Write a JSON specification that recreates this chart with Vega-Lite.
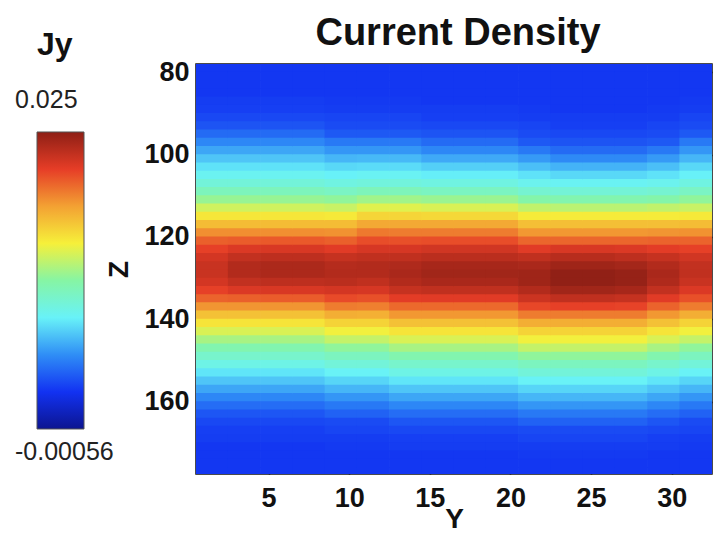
{
"$schema": "https://vega.github.io/schema/vega-lite/v6.json",
"padding": {"left": 15, "top": 14, "right": 0, "bottom": 0},
"background": "white",
"bounds": "flush",
"spacing": 112,
"config": {
  "view": {"stroke": null},
  "axis": {"labelFont": "Liberation Sans", "labelFontSize": 27, "labelFontWeight": "bold", "labelColor": "#111", "titleFont": "Liberation Sans", "titleFontSize": 28, "titleFontWeight": "bold", "titleColor": "#111", "tickColor": "#111", "tickSize": -6, "tickWidth": 1.5, "domain": false, "grid": false}
},
"hconcat": [
{
  "width": 47, "height": 410,
  "title": {"text": "Jy", "anchor": "start", "frame": "group", "font": "Liberation Sans", "fontSize": 32, "fontWeight": "bold", "color": "#111", "baseline": "alphabetic", "offset": -23},
  "layer": [
    {"data": {"values": [{"lo": -0.00056, "hi": 0.025}]},
     "mark": {"type": "rect", "stroke": "#555", "strokeWidth": 1,
       "fill": {"gradient": "linear", "x1": 0, "y1": 1, "x2": 0, "y2": 0, "stops": [
         {"offset": 0, "color": "#0c1590"}, {"offset": 0.125, "color": "#1232f2"}, {"offset": 0.25, "color": "#2f8ef6"}, {"offset": 0.375, "color": "#68f2f8"}, {"offset": 0.5, "color": "#86f5a4"}, {"offset": 0.625, "color": "#f6f03a"}, {"offset": 0.75, "color": "#f3a133"}, {"offset": 0.875, "color": "#e63d27"}, {"offset": 1, "color": "#8e1f15"}]}},
     "encoding": {"y": {"field": "lo", "type": "quantitative", "scale": {"domain": [-0.004433, 0.030852], "nice": false, "zero": false}, "axis": null}, "y2": {"field": "hi"}}},
    {"data": {"values": [{"v": 0.025, "t": "0.025"}]},
     "mark": {"type": "text", "align": "left", "baseline": "bottom", "dx": -45.5, "dy": -19, "font": "Liberation Sans", "fontSize": 25, "color": "#222"},
     "encoding": {"y": {"field": "v", "type": "quantitative"}, "text": {"field": "t"}}},
    {"data": {"values": [{"v": -0.00056, "t": "-0.00056"}]},
     "mark": {"type": "text", "align": "left", "baseline": "top", "dx": -45.5, "dy": 11, "font": "Liberation Sans", "fontSize": 25, "color": "#222"},
     "encoding": {"y": {"field": "v", "type": "quantitative"}, "text": {"field": "t"}}}
  ]
},
{
"width": 516, "height": 410,
"view": {"stroke": "#111", "strokeWidth": 1.5},
"title": {"text": "Current Density", "font": "Liberation Sans", "fontSize": 38, "fontWeight": "bold", "color": "#111", "frame": "group", "baseline": "alphabetic", "offset": -25, "anchor": "middle", "dx": 4},
"data": {"values": [
{"y":1.5,"z":79,"j":0.0028},{"y":1.5,"z":81,"j":0.0028},{"y":1.5,"z":83,"j":0.0028},{"y":1.5,"z":85,"j":0.0028},{"y":1.5,"z":87,"j":0.0030},{"y":1.5,"z":89,"j":0.0031},{"y":1.5,"z":91,"j":0.0034},{"y":1.5,"z":93,"j":0.0038},{"y":1.5,"z":95,"j":0.0046},{"y":1.5,"z":97,"j":0.0056},{"y":1.5,"z":99,"j":0.0066},{"y":1.5,"z":101,"j":0.0076},{"y":1.5,"z":103,"j":0.0085},{"y":1.5,"z":105,"j":0.0093},{"y":1.5,"z":107,"j":0.0102},{"y":1.5,"z":109,"j":0.0113},{"y":1.5,"z":111,"j":0.0127},{"y":1.5,"z":113,"j":0.0143},{"y":1.5,"z":115,"j":0.0158},{"y":1.5,"z":117,"j":0.0175},{"y":1.5,"z":119,"j":0.0192},{"y":1.5,"z":121,"j":0.0207},{"y":1.5,"z":123,"j":0.0217},{"y":1.5,"z":125,"j":0.0225},{"y":1.5,"z":127,"j":0.0229},{"y":1.5,"z":129,"j":0.0229},{"y":1.5,"z":131,"j":0.0225},{"y":1.5,"z":133,"j":0.0217},{"y":1.5,"z":135,"j":0.0206},{"y":1.5,"z":137,"j":0.0190},{"y":1.5,"z":139,"j":0.0173},{"y":1.5,"z":141,"j":0.0159},{"y":1.5,"z":143,"j":0.0146},{"y":1.5,"z":145,"j":0.0132},{"y":1.5,"z":147,"j":0.0118},{"y":1.5,"z":149,"j":0.0107},{"y":1.5,"z":151,"j":0.0097},{"y":1.5,"z":153,"j":0.0086},{"y":1.5,"z":155,"j":0.0076},{"y":1.5,"z":157,"j":0.0066},{"y":1.5,"z":159,"j":0.0056},{"y":1.5,"z":161,"j":0.0047},{"y":1.5,"z":163,"j":0.0039},{"y":1.5,"z":165,"j":0.0034},{"y":1.5,"z":167,"j":0.0031},{"y":1.5,"z":169,"j":0.0030},{"y":1.5,"z":171,"j":0.0028},{"y":1.5,"z":173,"j":0.0028},{"y":1.5,"z":175,"j":0.0028},{"y":1.5,"z":177,"j":0.0028},
{"y":3.5,"z":79,"j":0.0028},{"y":3.5,"z":81,"j":0.0028},{"y":3.5,"z":83,"j":0.0028},{"y":3.5,"z":85,"j":0.0028},{"y":3.5,"z":87,"j":0.0030},{"y":3.5,"z":89,"j":0.0031},{"y":3.5,"z":91,"j":0.0034},{"y":3.5,"z":93,"j":0.0038},{"y":3.5,"z":95,"j":0.0046},{"y":3.5,"z":97,"j":0.0056},{"y":3.5,"z":99,"j":0.0066},{"y":3.5,"z":101,"j":0.0076},{"y":3.5,"z":103,"j":0.0085},{"y":3.5,"z":105,"j":0.0093},{"y":3.5,"z":107,"j":0.0102},{"y":3.5,"z":109,"j":0.0113},{"y":3.5,"z":111,"j":0.0127},{"y":3.5,"z":113,"j":0.0143},{"y":3.5,"z":115,"j":0.0158},{"y":3.5,"z":117,"j":0.0175},{"y":3.5,"z":119,"j":0.0192},{"y":3.5,"z":121,"j":0.0208},{"y":3.5,"z":123,"j":0.0222},{"y":3.5,"z":125,"j":0.0231},{"y":3.5,"z":127,"j":0.0237},{"y":3.5,"z":129,"j":0.0237},{"y":3.5,"z":131,"j":0.0231},{"y":3.5,"z":133,"j":0.0222},{"y":3.5,"z":135,"j":0.0207},{"y":3.5,"z":137,"j":0.0190},{"y":3.5,"z":139,"j":0.0173},{"y":3.5,"z":141,"j":0.0159},{"y":3.5,"z":143,"j":0.0146},{"y":3.5,"z":145,"j":0.0132},{"y":3.5,"z":147,"j":0.0118},{"y":3.5,"z":149,"j":0.0107},{"y":3.5,"z":151,"j":0.0097},{"y":3.5,"z":153,"j":0.0086},{"y":3.5,"z":155,"j":0.0076},{"y":3.5,"z":157,"j":0.0066},{"y":3.5,"z":159,"j":0.0056},{"y":3.5,"z":161,"j":0.0047},{"y":3.5,"z":163,"j":0.0039},{"y":3.5,"z":165,"j":0.0034},{"y":3.5,"z":167,"j":0.0031},{"y":3.5,"z":169,"j":0.0030},{"y":3.5,"z":171,"j":0.0028},{"y":3.5,"z":173,"j":0.0028},{"y":3.5,"z":175,"j":0.0028},{"y":3.5,"z":177,"j":0.0028},
{"y":5.5,"z":79,"j":0.0028},{"y":5.5,"z":81,"j":0.0028},{"y":5.5,"z":83,"j":0.0028},{"y":5.5,"z":85,"j":0.0028},{"y":5.5,"z":87,"j":0.0030},{"y":5.5,"z":89,"j":0.0031},{"y":5.5,"z":91,"j":0.0034},{"y":5.5,"z":93,"j":0.0038},{"y":5.5,"z":95,"j":0.0046},{"y":5.5,"z":97,"j":0.0056},{"y":5.5,"z":99,"j":0.0066},{"y":5.5,"z":101,"j":0.0076},{"y":5.5,"z":103,"j":0.0085},{"y":5.5,"z":105,"j":0.0093},{"y":5.5,"z":107,"j":0.0102},{"y":5.5,"z":109,"j":0.0113},{"y":5.5,"z":111,"j":0.0127},{"y":5.5,"z":113,"j":0.0143},{"y":5.5,"z":115,"j":0.0158},{"y":5.5,"z":117,"j":0.0175},{"y":5.5,"z":119,"j":0.0192},{"y":5.5,"z":121,"j":0.0209},{"y":5.5,"z":123,"j":0.0223},{"y":5.5,"z":125,"j":0.0233},{"y":5.5,"z":127,"j":0.0239},{"y":5.5,"z":129,"j":0.0239},{"y":5.5,"z":131,"j":0.0233},{"y":5.5,"z":133,"j":0.0223},{"y":5.5,"z":135,"j":0.0208},{"y":5.5,"z":137,"j":0.0190},{"y":5.5,"z":139,"j":0.0173},{"y":5.5,"z":141,"j":0.0159},{"y":5.5,"z":143,"j":0.0146},{"y":5.5,"z":145,"j":0.0132},{"y":5.5,"z":147,"j":0.0118},{"y":5.5,"z":149,"j":0.0107},{"y":5.5,"z":151,"j":0.0097},{"y":5.5,"z":153,"j":0.0086},{"y":5.5,"z":155,"j":0.0076},{"y":5.5,"z":157,"j":0.0066},{"y":5.5,"z":159,"j":0.0056},{"y":5.5,"z":161,"j":0.0047},{"y":5.5,"z":163,"j":0.0039},{"y":5.5,"z":165,"j":0.0034},{"y":5.5,"z":167,"j":0.0031},{"y":5.5,"z":169,"j":0.0030},{"y":5.5,"z":171,"j":0.0028},{"y":5.5,"z":173,"j":0.0028},{"y":5.5,"z":175,"j":0.0028},{"y":5.5,"z":177,"j":0.0028},
{"y":7.5,"z":79,"j":0.0028},{"y":7.5,"z":81,"j":0.0028},{"y":7.5,"z":83,"j":0.0028},{"y":7.5,"z":85,"j":0.0028},{"y":7.5,"z":87,"j":0.0030},{"y":7.5,"z":89,"j":0.0031},{"y":7.5,"z":91,"j":0.0034},{"y":7.5,"z":93,"j":0.0038},{"y":7.5,"z":95,"j":0.0046},{"y":7.5,"z":97,"j":0.0056},{"y":7.5,"z":99,"j":0.0066},{"y":7.5,"z":101,"j":0.0076},{"y":7.5,"z":103,"j":0.0085},{"y":7.5,"z":105,"j":0.0093},{"y":7.5,"z":107,"j":0.0102},{"y":7.5,"z":109,"j":0.0113},{"y":7.5,"z":111,"j":0.0127},{"y":7.5,"z":113,"j":0.0143},{"y":7.5,"z":115,"j":0.0158},{"y":7.5,"z":117,"j":0.0175},{"y":7.5,"z":119,"j":0.0192},{"y":7.5,"z":121,"j":0.0209},{"y":7.5,"z":123,"j":0.0223},{"y":7.5,"z":125,"j":0.0233},{"y":7.5,"z":127,"j":0.0239},{"y":7.5,"z":129,"j":0.0239},{"y":7.5,"z":131,"j":0.0233},{"y":7.5,"z":133,"j":0.0223},{"y":7.5,"z":135,"j":0.0208},{"y":7.5,"z":137,"j":0.0190},{"y":7.5,"z":139,"j":0.0173},{"y":7.5,"z":141,"j":0.0159},{"y":7.5,"z":143,"j":0.0146},{"y":7.5,"z":145,"j":0.0132},{"y":7.5,"z":147,"j":0.0118},{"y":7.5,"z":149,"j":0.0107},{"y":7.5,"z":151,"j":0.0097},{"y":7.5,"z":153,"j":0.0086},{"y":7.5,"z":155,"j":0.0076},{"y":7.5,"z":157,"j":0.0066},{"y":7.5,"z":159,"j":0.0056},{"y":7.5,"z":161,"j":0.0047},{"y":7.5,"z":163,"j":0.0039},{"y":7.5,"z":165,"j":0.0034},{"y":7.5,"z":167,"j":0.0031},{"y":7.5,"z":169,"j":0.0030},{"y":7.5,"z":171,"j":0.0028},{"y":7.5,"z":173,"j":0.0028},{"y":7.5,"z":175,"j":0.0028},{"y":7.5,"z":177,"j":0.0028},
{"y":9.5,"z":79,"j":0.0028},{"y":9.5,"z":81,"j":0.0028},{"y":9.5,"z":83,"j":0.0028},{"y":9.5,"z":85,"j":0.0028},{"y":9.5,"z":87,"j":0.0029},{"y":9.5,"z":89,"j":0.0030},{"y":9.5,"z":91,"j":0.0033},{"y":9.5,"z":93,"j":0.0035},{"y":9.5,"z":95,"j":0.0040},{"y":9.5,"z":97,"j":0.0051},{"y":9.5,"z":99,"j":0.0061},{"y":9.5,"z":101,"j":0.0071},{"y":9.5,"z":103,"j":0.0082},{"y":9.5,"z":105,"j":0.0090},{"y":9.5,"z":107,"j":0.0099},{"y":9.5,"z":109,"j":0.0110},{"y":9.5,"z":111,"j":0.0125},{"y":9.5,"z":113,"j":0.0141},{"y":9.5,"z":115,"j":0.0157},{"y":9.5,"z":117,"j":0.0175},{"y":9.5,"z":119,"j":0.0191},{"y":9.5,"z":121,"j":0.0207},{"y":9.5,"z":123,"j":0.0220},{"y":9.5,"z":125,"j":0.0230},{"y":9.5,"z":127,"j":0.0236},{"y":9.5,"z":129,"j":0.0237},{"y":9.5,"z":131,"j":0.0234},{"y":9.5,"z":133,"j":0.0225},{"y":9.5,"z":135,"j":0.0214},{"y":9.5,"z":137,"j":0.0198},{"y":9.5,"z":139,"j":0.0181},{"y":9.5,"z":141,"j":0.0166},{"y":9.5,"z":143,"j":0.0153},{"y":9.5,"z":145,"j":0.0140},{"y":9.5,"z":147,"j":0.0125},{"y":9.5,"z":149,"j":0.0112},{"y":9.5,"z":151,"j":0.0102},{"y":9.5,"z":153,"j":0.0091},{"y":9.5,"z":155,"j":0.0081},{"y":9.5,"z":157,"j":0.0071},{"y":9.5,"z":159,"j":0.0061},{"y":9.5,"z":161,"j":0.0051},{"y":9.5,"z":163,"j":0.0043},{"y":9.5,"z":165,"j":0.0035},{"y":9.5,"z":167,"j":0.0033},{"y":9.5,"z":169,"j":0.0030},{"y":9.5,"z":171,"j":0.0029},{"y":9.5,"z":173,"j":0.0028},{"y":9.5,"z":175,"j":0.0028},{"y":9.5,"z":177,"j":0.0028},
{"y":11.5,"z":79,"j":0.0028},{"y":11.5,"z":81,"j":0.0028},{"y":11.5,"z":83,"j":0.0028},{"y":11.5,"z":85,"j":0.0028},{"y":11.5,"z":87,"j":0.0029},{"y":11.5,"z":89,"j":0.0030},{"y":11.5,"z":91,"j":0.0033},{"y":11.5,"z":93,"j":0.0035},{"y":11.5,"z":95,"j":0.0040},{"y":11.5,"z":97,"j":0.0051},{"y":11.5,"z":99,"j":0.0061},{"y":11.5,"z":101,"j":0.0072},{"y":11.5,"z":103,"j":0.0083},{"y":11.5,"z":105,"j":0.0092},{"y":11.5,"z":107,"j":0.0101},{"y":11.5,"z":109,"j":0.0114},{"y":11.5,"z":111,"j":0.0130},{"y":11.5,"z":113,"j":0.0148},{"y":11.5,"z":115,"j":0.0165},{"y":11.5,"z":117,"j":0.0183},{"y":11.5,"z":119,"j":0.0199},{"y":11.5,"z":121,"j":0.0213},{"y":11.5,"z":123,"j":0.0224},{"y":11.5,"z":125,"j":0.0232},{"y":11.5,"z":127,"j":0.0237},{"y":11.5,"z":129,"j":0.0237},{"y":11.5,"z":131,"j":0.0232},{"y":11.5,"z":133,"j":0.0224},{"y":11.5,"z":135,"j":0.0212},{"y":11.5,"z":137,"j":0.0197},{"y":11.5,"z":139,"j":0.0180},{"y":11.5,"z":141,"j":0.0166},{"y":11.5,"z":143,"j":0.0153},{"y":11.5,"z":145,"j":0.0140},{"y":11.5,"z":147,"j":0.0125},{"y":11.5,"z":149,"j":0.0112},{"y":11.5,"z":151,"j":0.0102},{"y":11.5,"z":153,"j":0.0091},{"y":11.5,"z":155,"j":0.0081},{"y":11.5,"z":157,"j":0.0071},{"y":11.5,"z":159,"j":0.0061},{"y":11.5,"z":161,"j":0.0051},{"y":11.5,"z":163,"j":0.0043},{"y":11.5,"z":165,"j":0.0035},{"y":11.5,"z":167,"j":0.0033},{"y":11.5,"z":169,"j":0.0030},{"y":11.5,"z":171,"j":0.0029},{"y":11.5,"z":173,"j":0.0028},{"y":11.5,"z":175,"j":0.0028},{"y":11.5,"z":177,"j":0.0028},
{"y":13.5,"z":79,"j":0.0028},{"y":13.5,"z":81,"j":0.0028},{"y":13.5,"z":83,"j":0.0028},{"y":13.5,"z":85,"j":0.0028},{"y":13.5,"z":87,"j":0.0029},{"y":13.5,"z":89,"j":0.0030},{"y":13.5,"z":91,"j":0.0033},{"y":13.5,"z":93,"j":0.0035},{"y":13.5,"z":95,"j":0.0040},{"y":13.5,"z":97,"j":0.0051},{"y":13.5,"z":99,"j":0.0061},{"y":13.5,"z":101,"j":0.0072},{"y":13.5,"z":103,"j":0.0083},{"y":13.5,"z":105,"j":0.0092},{"y":13.5,"z":107,"j":0.0101},{"y":13.5,"z":109,"j":0.0114},{"y":13.5,"z":111,"j":0.0130},{"y":13.5,"z":113,"j":0.0148},{"y":13.5,"z":115,"j":0.0165},{"y":13.5,"z":117,"j":0.0183},{"y":13.5,"z":119,"j":0.0198},{"y":13.5,"z":121,"j":0.0212},{"y":13.5,"z":123,"j":0.0224},{"y":13.5,"z":125,"j":0.0232},{"y":13.5,"z":127,"j":0.0238},{"y":13.5,"z":129,"j":0.0240},{"y":13.5,"z":131,"j":0.0237},{"y":13.5,"z":133,"j":0.0230},{"y":13.5,"z":135,"j":0.0219},{"y":13.5,"z":137,"j":0.0204},{"y":13.5,"z":139,"j":0.0189},{"y":13.5,"z":141,"j":0.0173},{"y":13.5,"z":143,"j":0.0159},{"y":13.5,"z":145,"j":0.0146},{"y":13.5,"z":147,"j":0.0132},{"y":13.5,"z":149,"j":0.0118},{"y":13.5,"z":151,"j":0.0107},{"y":13.5,"z":153,"j":0.0097},{"y":13.5,"z":155,"j":0.0086},{"y":13.5,"z":157,"j":0.0076},{"y":13.5,"z":159,"j":0.0066},{"y":13.5,"z":161,"j":0.0056},{"y":13.5,"z":163,"j":0.0047},{"y":13.5,"z":165,"j":0.0039},{"y":13.5,"z":167,"j":0.0034},{"y":13.5,"z":169,"j":0.0031},{"y":13.5,"z":171,"j":0.0030},{"y":13.5,"z":173,"j":0.0028},{"y":13.5,"z":175,"j":0.0028},{"y":13.5,"z":177,"j":0.0028},
{"y":15.5,"z":79,"j":0.0028},{"y":15.5,"z":81,"j":0.0028},{"y":15.5,"z":83,"j":0.0028},{"y":15.5,"z":85,"j":0.0028},{"y":15.5,"z":87,"j":0.0028},{"y":15.5,"z":89,"j":0.0030},{"y":15.5,"z":91,"j":0.0031},{"y":15.5,"z":93,"j":0.0034},{"y":15.5,"z":95,"j":0.0038},{"y":15.5,"z":97,"j":0.0046},{"y":15.5,"z":99,"j":0.0056},{"y":15.5,"z":101,"j":0.0067},{"y":15.5,"z":103,"j":0.0079},{"y":15.5,"z":105,"j":0.0089},{"y":15.5,"z":107,"j":0.0099},{"y":15.5,"z":109,"j":0.0111},{"y":15.5,"z":111,"j":0.0128},{"y":15.5,"z":113,"j":0.0146},{"y":15.5,"z":115,"j":0.0164},{"y":15.5,"z":117,"j":0.0183},{"y":15.5,"z":119,"j":0.0198},{"y":15.5,"z":121,"j":0.0213},{"y":15.5,"z":123,"j":0.0226},{"y":15.5,"z":125,"j":0.0234},{"y":15.5,"z":127,"j":0.0241},{"y":15.5,"z":129,"j":0.0243},{"y":15.5,"z":131,"j":0.0240},{"y":15.5,"z":133,"j":0.0232},{"y":15.5,"z":135,"j":0.0220},{"y":15.5,"z":137,"j":0.0204},{"y":15.5,"z":139,"j":0.0189},{"y":15.5,"z":141,"j":0.0173},{"y":15.5,"z":143,"j":0.0159},{"y":15.5,"z":145,"j":0.0146},{"y":15.5,"z":147,"j":0.0132},{"y":15.5,"z":149,"j":0.0118},{"y":15.5,"z":151,"j":0.0107},{"y":15.5,"z":153,"j":0.0097},{"y":15.5,"z":155,"j":0.0086},{"y":15.5,"z":157,"j":0.0076},{"y":15.5,"z":159,"j":0.0066},{"y":15.5,"z":161,"j":0.0056},{"y":15.5,"z":163,"j":0.0047},{"y":15.5,"z":165,"j":0.0039},{"y":15.5,"z":167,"j":0.0034},{"y":15.5,"z":169,"j":0.0031},{"y":15.5,"z":171,"j":0.0030},{"y":15.5,"z":173,"j":0.0028},{"y":15.5,"z":175,"j":0.0028},{"y":15.5,"z":177,"j":0.0028},
{"y":17.5,"z":79,"j":0.0028},{"y":17.5,"z":81,"j":0.0028},{"y":17.5,"z":83,"j":0.0028},{"y":17.5,"z":85,"j":0.0028},{"y":17.5,"z":87,"j":0.0028},{"y":17.5,"z":89,"j":0.0030},{"y":17.5,"z":91,"j":0.0031},{"y":17.5,"z":93,"j":0.0034},{"y":17.5,"z":95,"j":0.0038},{"y":17.5,"z":97,"j":0.0046},{"y":17.5,"z":99,"j":0.0056},{"y":17.5,"z":101,"j":0.0067},{"y":17.5,"z":103,"j":0.0079},{"y":17.5,"z":105,"j":0.0089},{"y":17.5,"z":107,"j":0.0099},{"y":17.5,"z":109,"j":0.0111},{"y":17.5,"z":111,"j":0.0128},{"y":17.5,"z":113,"j":0.0146},{"y":17.5,"z":115,"j":0.0164},{"y":17.5,"z":117,"j":0.0183},{"y":17.5,"z":119,"j":0.0198},{"y":17.5,"z":121,"j":0.0213},{"y":17.5,"z":123,"j":0.0226},{"y":17.5,"z":125,"j":0.0234},{"y":17.5,"z":127,"j":0.0241},{"y":17.5,"z":129,"j":0.0243},{"y":17.5,"z":131,"j":0.0240},{"y":17.5,"z":133,"j":0.0232},{"y":17.5,"z":135,"j":0.0220},{"y":17.5,"z":137,"j":0.0204},{"y":17.5,"z":139,"j":0.0189},{"y":17.5,"z":141,"j":0.0173},{"y":17.5,"z":143,"j":0.0159},{"y":17.5,"z":145,"j":0.0146},{"y":17.5,"z":147,"j":0.0132},{"y":17.5,"z":149,"j":0.0118},{"y":17.5,"z":151,"j":0.0107},{"y":17.5,"z":153,"j":0.0097},{"y":17.5,"z":155,"j":0.0086},{"y":17.5,"z":157,"j":0.0076},{"y":17.5,"z":159,"j":0.0066},{"y":17.5,"z":161,"j":0.0056},{"y":17.5,"z":163,"j":0.0047},{"y":17.5,"z":165,"j":0.0039},{"y":17.5,"z":167,"j":0.0034},{"y":17.5,"z":169,"j":0.0031},{"y":17.5,"z":171,"j":0.0030},{"y":17.5,"z":173,"j":0.0028},{"y":17.5,"z":175,"j":0.0028},{"y":17.5,"z":177,"j":0.0028},
{"y":19.5,"z":79,"j":0.0028},{"y":19.5,"z":81,"j":0.0028},{"y":19.5,"z":83,"j":0.0028},{"y":19.5,"z":85,"j":0.0028},{"y":19.5,"z":87,"j":0.0028},{"y":19.5,"z":89,"j":0.0030},{"y":19.5,"z":91,"j":0.0031},{"y":19.5,"z":93,"j":0.0034},{"y":19.5,"z":95,"j":0.0038},{"y":19.5,"z":97,"j":0.0046},{"y":19.5,"z":99,"j":0.0056},{"y":19.5,"z":101,"j":0.0067},{"y":19.5,"z":103,"j":0.0079},{"y":19.5,"z":105,"j":0.0089},{"y":19.5,"z":107,"j":0.0099},{"y":19.5,"z":109,"j":0.0111},{"y":19.5,"z":111,"j":0.0128},{"y":19.5,"z":113,"j":0.0146},{"y":19.5,"z":115,"j":0.0164},{"y":19.5,"z":117,"j":0.0183},{"y":19.5,"z":119,"j":0.0198},{"y":19.5,"z":121,"j":0.0213},{"y":19.5,"z":123,"j":0.0226},{"y":19.5,"z":125,"j":0.0234},{"y":19.5,"z":127,"j":0.0241},{"y":19.5,"z":129,"j":0.0243},{"y":19.5,"z":131,"j":0.0240},{"y":19.5,"z":133,"j":0.0232},{"y":19.5,"z":135,"j":0.0220},{"y":19.5,"z":137,"j":0.0204},{"y":19.5,"z":139,"j":0.0189},{"y":19.5,"z":141,"j":0.0173},{"y":19.5,"z":143,"j":0.0159},{"y":19.5,"z":145,"j":0.0146},{"y":19.5,"z":147,"j":0.0132},{"y":19.5,"z":149,"j":0.0118},{"y":19.5,"z":151,"j":0.0107},{"y":19.5,"z":153,"j":0.0097},{"y":19.5,"z":155,"j":0.0086},{"y":19.5,"z":157,"j":0.0076},{"y":19.5,"z":159,"j":0.0066},{"y":19.5,"z":161,"j":0.0056},{"y":19.5,"z":163,"j":0.0047},{"y":19.5,"z":165,"j":0.0039},{"y":19.5,"z":167,"j":0.0034},{"y":19.5,"z":169,"j":0.0031},{"y":19.5,"z":171,"j":0.0030},{"y":19.5,"z":173,"j":0.0028},{"y":19.5,"z":175,"j":0.0028},{"y":19.5,"z":177,"j":0.0028},
{"y":21.5,"z":79,"j":0.0028},{"y":21.5,"z":81,"j":0.0028},{"y":21.5,"z":83,"j":0.0028},{"y":21.5,"z":85,"j":0.0028},{"y":21.5,"z":87,"j":0.0028},{"y":21.5,"z":89,"j":0.0029},{"y":21.5,"z":91,"j":0.0030},{"y":21.5,"z":93,"j":0.0033},{"y":21.5,"z":95,"j":0.0035},{"y":21.5,"z":97,"j":0.0040},{"y":21.5,"z":99,"j":0.0051},{"y":21.5,"z":101,"j":0.0062},{"y":21.5,"z":103,"j":0.0074},{"y":21.5,"z":105,"j":0.0085},{"y":21.5,"z":107,"j":0.0094},{"y":21.5,"z":109,"j":0.0105},{"y":21.5,"z":111,"j":0.0120},{"y":21.5,"z":113,"j":0.0139},{"y":21.5,"z":115,"j":0.0156},{"y":21.5,"z":117,"j":0.0174},{"y":21.5,"z":119,"j":0.0189},{"y":21.5,"z":121,"j":0.0205},{"y":21.5,"z":123,"j":0.0220},{"y":21.5,"z":125,"j":0.0232},{"y":21.5,"z":127,"j":0.0240},{"y":21.5,"z":129,"j":0.0244},{"y":21.5,"z":131,"j":0.0244},{"y":21.5,"z":133,"j":0.0237},{"y":21.5,"z":135,"j":0.0228},{"y":21.5,"z":137,"j":0.0215},{"y":21.5,"z":139,"j":0.0198},{"y":21.5,"z":141,"j":0.0181},{"y":21.5,"z":143,"j":0.0166},{"y":21.5,"z":145,"j":0.0153},{"y":21.5,"z":147,"j":0.0140},{"y":21.5,"z":149,"j":0.0125},{"y":21.5,"z":151,"j":0.0112},{"y":21.5,"z":153,"j":0.0102},{"y":21.5,"z":155,"j":0.0091},{"y":21.5,"z":157,"j":0.0081},{"y":21.5,"z":159,"j":0.0071},{"y":21.5,"z":161,"j":0.0061},{"y":21.5,"z":163,"j":0.0051},{"y":21.5,"z":165,"j":0.0043},{"y":21.5,"z":167,"j":0.0035},{"y":21.5,"z":169,"j":0.0033},{"y":21.5,"z":171,"j":0.0030},{"y":21.5,"z":173,"j":0.0029},{"y":21.5,"z":175,"j":0.0028},{"y":21.5,"z":177,"j":0.0028},
{"y":23.5,"z":79,"j":0.0028},{"y":23.5,"z":81,"j":0.0028},{"y":23.5,"z":83,"j":0.0028},{"y":23.5,"z":85,"j":0.0028},{"y":23.5,"z":87,"j":0.0028},{"y":23.5,"z":89,"j":0.0028},{"y":23.5,"z":91,"j":0.0030},{"y":23.5,"z":93,"j":0.0031},{"y":23.5,"z":95,"j":0.0034},{"y":23.5,"z":97,"j":0.0038},{"y":23.5,"z":99,"j":0.0046},{"y":23.5,"z":101,"j":0.0057},{"y":23.5,"z":103,"j":0.0070},{"y":23.5,"z":105,"j":0.0082},{"y":23.5,"z":107,"j":0.0092},{"y":23.5,"z":109,"j":0.0103},{"y":23.5,"z":111,"j":0.0118},{"y":23.5,"z":113,"j":0.0137},{"y":23.5,"z":115,"j":0.0156},{"y":23.5,"z":117,"j":0.0174},{"y":23.5,"z":119,"j":0.0189},{"y":23.5,"z":121,"j":0.0205},{"y":23.5,"z":123,"j":0.0223},{"y":23.5,"z":125,"j":0.0235},{"y":23.5,"z":127,"j":0.0244},{"y":23.5,"z":129,"j":0.0249},{"y":23.5,"z":131,"j":0.0249},{"y":23.5,"z":133,"j":0.0243},{"y":23.5,"z":135,"j":0.0232},{"y":23.5,"z":137,"j":0.0217},{"y":23.5,"z":139,"j":0.0198},{"y":23.5,"z":141,"j":0.0181},{"y":23.5,"z":143,"j":0.0166},{"y":23.5,"z":145,"j":0.0153},{"y":23.5,"z":147,"j":0.0140},{"y":23.5,"z":149,"j":0.0125},{"y":23.5,"z":151,"j":0.0112},{"y":23.5,"z":153,"j":0.0102},{"y":23.5,"z":155,"j":0.0091},{"y":23.5,"z":157,"j":0.0081},{"y":23.5,"z":159,"j":0.0071},{"y":23.5,"z":161,"j":0.0061},{"y":23.5,"z":163,"j":0.0051},{"y":23.5,"z":165,"j":0.0043},{"y":23.5,"z":167,"j":0.0035},{"y":23.5,"z":169,"j":0.0033},{"y":23.5,"z":171,"j":0.0030},{"y":23.5,"z":173,"j":0.0029},{"y":23.5,"z":175,"j":0.0028},{"y":23.5,"z":177,"j":0.0028},
{"y":25.5,"z":79,"j":0.0028},{"y":25.5,"z":81,"j":0.0028},{"y":25.5,"z":83,"j":0.0028},{"y":25.5,"z":85,"j":0.0028},{"y":25.5,"z":87,"j":0.0028},{"y":25.5,"z":89,"j":0.0028},{"y":25.5,"z":91,"j":0.0030},{"y":25.5,"z":93,"j":0.0031},{"y":25.5,"z":95,"j":0.0034},{"y":25.5,"z":97,"j":0.0038},{"y":25.5,"z":99,"j":0.0046},{"y":25.5,"z":101,"j":0.0057},{"y":25.5,"z":103,"j":0.0070},{"y":25.5,"z":105,"j":0.0082},{"y":25.5,"z":107,"j":0.0092},{"y":25.5,"z":109,"j":0.0103},{"y":25.5,"z":111,"j":0.0118},{"y":25.5,"z":113,"j":0.0137},{"y":25.5,"z":115,"j":0.0156},{"y":25.5,"z":117,"j":0.0174},{"y":25.5,"z":119,"j":0.0189},{"y":25.5,"z":121,"j":0.0205},{"y":25.5,"z":123,"j":0.0223},{"y":25.5,"z":125,"j":0.0235},{"y":25.5,"z":127,"j":0.0244},{"y":25.5,"z":129,"j":0.0249},{"y":25.5,"z":131,"j":0.0249},{"y":25.5,"z":133,"j":0.0243},{"y":25.5,"z":135,"j":0.0232},{"y":25.5,"z":137,"j":0.0217},{"y":25.5,"z":139,"j":0.0198},{"y":25.5,"z":141,"j":0.0181},{"y":25.5,"z":143,"j":0.0166},{"y":25.5,"z":145,"j":0.0153},{"y":25.5,"z":147,"j":0.0140},{"y":25.5,"z":149,"j":0.0125},{"y":25.5,"z":151,"j":0.0112},{"y":25.5,"z":153,"j":0.0102},{"y":25.5,"z":155,"j":0.0091},{"y":25.5,"z":157,"j":0.0081},{"y":25.5,"z":159,"j":0.0071},{"y":25.5,"z":161,"j":0.0061},{"y":25.5,"z":163,"j":0.0051},{"y":25.5,"z":165,"j":0.0043},{"y":25.5,"z":167,"j":0.0035},{"y":25.5,"z":169,"j":0.0033},{"y":25.5,"z":171,"j":0.0030},{"y":25.5,"z":173,"j":0.0029},{"y":25.5,"z":175,"j":0.0028},{"y":25.5,"z":177,"j":0.0028},
{"y":27.5,"z":79,"j":0.0028},{"y":27.5,"z":81,"j":0.0028},{"y":27.5,"z":83,"j":0.0028},{"y":27.5,"z":85,"j":0.0028},{"y":27.5,"z":87,"j":0.0028},{"y":27.5,"z":89,"j":0.0028},{"y":27.5,"z":91,"j":0.0030},{"y":27.5,"z":93,"j":0.0031},{"y":27.5,"z":95,"j":0.0034},{"y":27.5,"z":97,"j":0.0038},{"y":27.5,"z":99,"j":0.0046},{"y":27.5,"z":101,"j":0.0057},{"y":27.5,"z":103,"j":0.0070},{"y":27.5,"z":105,"j":0.0082},{"y":27.5,"z":107,"j":0.0092},{"y":27.5,"z":109,"j":0.0103},{"y":27.5,"z":111,"j":0.0118},{"y":27.5,"z":113,"j":0.0137},{"y":27.5,"z":115,"j":0.0156},{"y":27.5,"z":117,"j":0.0174},{"y":27.5,"z":119,"j":0.0189},{"y":27.5,"z":121,"j":0.0205},{"y":27.5,"z":123,"j":0.0222},{"y":27.5,"z":125,"j":0.0233},{"y":27.5,"z":127,"j":0.0242},{"y":27.5,"z":129,"j":0.0247},{"y":27.5,"z":131,"j":0.0247},{"y":27.5,"z":133,"j":0.0241},{"y":27.5,"z":135,"j":0.0230},{"y":27.5,"z":137,"j":0.0216},{"y":27.5,"z":139,"j":0.0198},{"y":27.5,"z":141,"j":0.0181},{"y":27.5,"z":143,"j":0.0166},{"y":27.5,"z":145,"j":0.0153},{"y":27.5,"z":147,"j":0.0140},{"y":27.5,"z":149,"j":0.0125},{"y":27.5,"z":151,"j":0.0112},{"y":27.5,"z":153,"j":0.0102},{"y":27.5,"z":155,"j":0.0091},{"y":27.5,"z":157,"j":0.0081},{"y":27.5,"z":159,"j":0.0071},{"y":27.5,"z":161,"j":0.0061},{"y":27.5,"z":163,"j":0.0051},{"y":27.5,"z":165,"j":0.0043},{"y":27.5,"z":167,"j":0.0035},{"y":27.5,"z":169,"j":0.0033},{"y":27.5,"z":171,"j":0.0030},{"y":27.5,"z":173,"j":0.0029},{"y":27.5,"z":175,"j":0.0028},{"y":27.5,"z":177,"j":0.0028},
{"y":29.5,"z":79,"j":0.0028},{"y":29.5,"z":81,"j":0.0028},{"y":29.5,"z":83,"j":0.0028},{"y":29.5,"z":85,"j":0.0028},{"y":29.5,"z":87,"j":0.0028},{"y":29.5,"z":89,"j":0.0029},{"y":29.5,"z":91,"j":0.0030},{"y":29.5,"z":93,"j":0.0033},{"y":29.5,"z":95,"j":0.0035},{"y":29.5,"z":97,"j":0.0040},{"y":29.5,"z":99,"j":0.0051},{"y":29.5,"z":101,"j":0.0062},{"y":29.5,"z":103,"j":0.0074},{"y":29.5,"z":105,"j":0.0085},{"y":29.5,"z":107,"j":0.0094},{"y":29.5,"z":109,"j":0.0105},{"y":29.5,"z":111,"j":0.0120},{"y":29.5,"z":113,"j":0.0139},{"y":29.5,"z":115,"j":0.0156},{"y":29.5,"z":117,"j":0.0174},{"y":29.5,"z":119,"j":0.0190},{"y":29.5,"z":121,"j":0.0206},{"y":29.5,"z":123,"j":0.0219},{"y":29.5,"z":125,"j":0.0230},{"y":29.5,"z":127,"j":0.0237},{"y":29.5,"z":129,"j":0.0240},{"y":29.5,"z":131,"j":0.0238},{"y":29.5,"z":133,"j":0.0231},{"y":29.5,"z":135,"j":0.0220},{"y":29.5,"z":137,"j":0.0206},{"y":29.5,"z":139,"j":0.0189},{"y":29.5,"z":141,"j":0.0173},{"y":29.5,"z":143,"j":0.0159},{"y":29.5,"z":145,"j":0.0146},{"y":29.5,"z":147,"j":0.0132},{"y":29.5,"z":149,"j":0.0118},{"y":29.5,"z":151,"j":0.0107},{"y":29.5,"z":153,"j":0.0097},{"y":29.5,"z":155,"j":0.0086},{"y":29.5,"z":157,"j":0.0076},{"y":29.5,"z":159,"j":0.0066},{"y":29.5,"z":161,"j":0.0056},{"y":29.5,"z":163,"j":0.0047},{"y":29.5,"z":165,"j":0.0039},{"y":29.5,"z":167,"j":0.0034},{"y":29.5,"z":169,"j":0.0031},{"y":29.5,"z":171,"j":0.0030},{"y":29.5,"z":173,"j":0.0028},{"y":29.5,"z":175,"j":0.0028},{"y":29.5,"z":177,"j":0.0028},
{"y":31.5,"z":79,"j":0.0028},{"y":31.5,"z":81,"j":0.0028},{"y":31.5,"z":83,"j":0.0028},{"y":31.5,"z":85,"j":0.0028},{"y":31.5,"z":87,"j":0.0029},{"y":31.5,"z":89,"j":0.0030},{"y":31.5,"z":91,"j":0.0033},{"y":31.5,"z":93,"j":0.0035},{"y":31.5,"z":95,"j":0.0040},{"y":31.5,"z":97,"j":0.0051},{"y":31.5,"z":99,"j":0.0061},{"y":31.5,"z":101,"j":0.0071},{"y":31.5,"z":103,"j":0.0082},{"y":31.5,"z":105,"j":0.0090},{"y":31.5,"z":107,"j":0.0099},{"y":31.5,"z":109,"j":0.0110},{"y":31.5,"z":111,"j":0.0125},{"y":31.5,"z":113,"j":0.0141},{"y":31.5,"z":115,"j":0.0157},{"y":31.5,"z":117,"j":0.0175},{"y":31.5,"z":119,"j":0.0191},{"y":31.5,"z":121,"j":0.0206},{"y":31.5,"z":123,"j":0.0217},{"y":31.5,"z":125,"j":0.0226},{"y":31.5,"z":127,"j":0.0231},{"y":31.5,"z":129,"j":0.0232},{"y":31.5,"z":131,"j":0.0229},{"y":31.5,"z":133,"j":0.0222},{"y":31.5,"z":135,"j":0.0212},{"y":31.5,"z":137,"j":0.0198},{"y":31.5,"z":139,"j":0.0181},{"y":31.5,"z":141,"j":0.0166},{"y":31.5,"z":143,"j":0.0153},{"y":31.5,"z":145,"j":0.0140},{"y":31.5,"z":147,"j":0.0125},{"y":31.5,"z":149,"j":0.0112},{"y":31.5,"z":151,"j":0.0102},{"y":31.5,"z":153,"j":0.0091},{"y":31.5,"z":155,"j":0.0081},{"y":31.5,"z":157,"j":0.0071},{"y":31.5,"z":159,"j":0.0061},{"y":31.5,"z":161,"j":0.0051},{"y":31.5,"z":163,"j":0.0043},{"y":31.5,"z":165,"j":0.0035},{"y":31.5,"z":167,"j":0.0033},{"y":31.5,"z":169,"j":0.0030},{"y":31.5,"z":171,"j":0.0029},{"y":31.5,"z":173,"j":0.0028},{"y":31.5,"z":175,"j":0.0028},{"y":31.5,"z":177,"j":0.0028}
]},
"layer": [
  {
    "mark": {"type": "rect", "width": 33, "height": 9, "clip": true},
    "encoding": {
      "x": {"field": "y", "type": "quantitative", "scale": {"domain": [0.5, 32.5], "nice": false, "zero": false},
            "axis": {"values": [5, 10, 15, 20, 25, 30], "title": "Y", "labelPadding": 17, "titlePadding": -6}},
      "y": {"field": "z", "type": "quantitative", "scale": {"domain": [78, 177.6], "nice": false, "zero": false, "reverse": true},
            "axis": {"values": [80, 100, 120, 140, 160], "title": "Z", "labelPadding": 13, "titlePadding": 10}},
      "color": {"field": "j", "type": "quantitative",
        "scale": {"domain": [-0.00056, 0.002635, 0.00583, 0.009025, 0.01222, 0.015415, 0.01861, 0.021805, 0.025],
                  "range": ["#0c1590", "#1232f2", "#2f8ef6", "#68f2f8", "#86f5a4", "#f6f03a", "#f3a133", "#e63d27", "#8e1f15"],
                  "interpolate": "rgb"},
        "legend": null
      }
    }
  },
  {
    "mark": {"type": "point", "opacity": 0},
    "encoding": {
      "x": {"field": "y", "type": "quantitative", "axis": {"orient": "top", "values": [5, 10, 15, 20, 25, 30], "labels": false, "title": null}},
      "y": {"field": "z", "type": "quantitative", "axis": {"orient": "right", "values": [80, 100, 120, 140, 160], "labels": false, "title": null}}
    }
  }
],
"resolve": {"axis": {"x": "independent", "y": "independent"}}
}
]
}
